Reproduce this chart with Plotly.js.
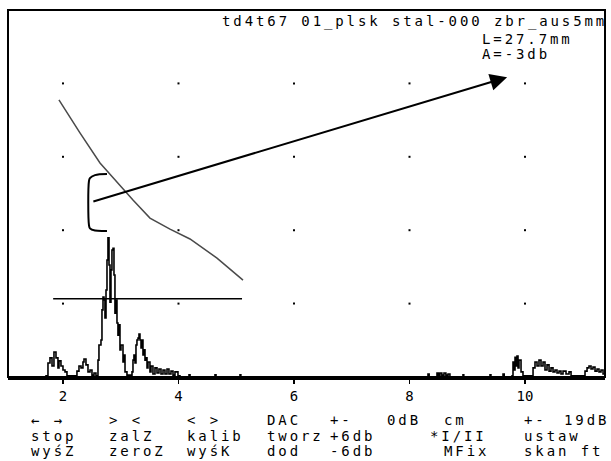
<!DOCTYPE html>
<html>
<head>
<meta charset="utf-8">
<script src="https://cdn.plot.ly/plotly-3.0.1.min.js"></script>
<style>
  html, body { margin: 0; padding: 0; background: #fff; }
  #chart { width: 611px; height: 461px; }
  .annotation-text { letter-spacing: 2.9px; }
</style>
</head>
<body>
<div id="chart"></div>
<script>
// ---- data ----
const tickValues = [2, 4, 6, 8, 10];
const tickLabels = ['2', '4', '6', '8', '10'];
const gridX = [2, 4, 6, 8, 10];
const gridY = [20, 40, 60, 80];

// rectified echo signal (A-scan), amplitude in % of screen height
const sigX = [1.05, 1.706, 1.740, 1.775, 1.810, 1.844, 1.879, 1.913, 1.931, 1.965, 2.000, 2.035, 2.069,
  2.225, 2.242, 2.277, 2.312, 2.346, 2.364, 2.398, 2.433, 2.468, 2.502, 2.537, 2.571,
  2.606, 2.623, 2.658, 2.675, 2.693, 2.710, 2.727, 2.745, 2.762, 2.779, 2.797, 2.814, 2.831, 2.848,
  2.866, 2.883, 2.900, 2.918, 2.935, 2.952, 2.970, 2.987, 3.004, 3.039, 3.056, 3.074, 3.108, 3.160,
  3.195, 3.212, 3.229, 3.247, 3.264, 3.281, 3.299, 3.316, 3.333, 3.351, 3.368, 3.385, 3.403, 3.420,
  3.437, 3.455, 3.472, 3.506, 3.524, 3.558, 3.593, 3.628, 3.662, 3.697, 3.732, 3.766, 3.801, 3.835,
  3.870, 3.905, 3.939, 3.991, 4.026,
  4.17, 4.182, 4.20, 4.62, 4.632, 4.65, 5.05, 5.065, 5.08,
  8.31, 8.320, 8.34, 8.46, 8.476, 8.50, 8.528, 8.56, 8.597, 8.63, 8.667, 8.70,
  8.91, 8.926, 8.94, 9.38, 9.394, 9.41, 9.60, 9.619, 9.64,
  9.775, 9.792, 9.810, 9.827, 9.844, 9.861, 9.879, 9.896, 9.931, 9.965,
  10.104, 10.139, 10.173, 10.208, 10.242, 10.277, 10.312, 10.346, 10.381, 10.416, 10.450, 10.485,
  10.519, 10.554, 10.589, 10.623, 10.658, 10.710, 10.762, 10.797,
  10.987, 11.039, 11.074, 11.108, 11.143, 11.177, 11.212, 11.247, 11.281, 11.316, 11.351, 11.385];
const sigY = [0, 0.3, 3.8, 5.2, 3.0, 6.8, 5.2, 2.5, 4.4, 3.0, 1.9, 1.4, 0.3,
  0.3, 1.6, 3.0, 2.5, 4.1, 4.9, 3.3, 1.4, 1.9, 0.5, 1.1, 0.3,
  4.6, 8.7, 10.1, 18.3, 21.8, 21.0, 16.1, 23.7, 31.9, 37.9, 30.5, 20.4, 29.2, 34.6,
  35.1, 27.8, 17.4, 21.0, 14.7, 11.4, 14.2, 7.4, 8.7, 4.1, 6.0, 1.4, 0.5, 0.5,
  1.4, 4.6, 6.0, 3.8, 8.7, 10.1, 10.6, 11.7, 10.1, 7.9, 10.1, 6.0, 7.4, 4.6,
  5.2, 2.5, 4.1, 1.4, 3.0, 0.8, 2.5, 1.1, 2.2, 0.8, 1.9, 0.8, 2.2, 0.8,
  1.6, 0.5, 1.4, 0.3, 0,
  0, 0.6, 0, 0, 0.6, 0, 0, 0.6, 0,
  0, 0.8, 0, 0, 1.1, 0.5, 1.1, 0.5, 1.1, 0.5, 0.8, 0,
  0, 0.6, 0, 0, 0.6, 0, 0, 0.8, 0,
  0.3, 4.1, 1.9, 5.4, 3.0, 5.7, 2.5, 4.6, 1.4, 0.3,
  0.3, 2.5, 4.1, 3.0, 4.6, 3.0, 4.1, 1.9, 3.3, 1.6, 2.5, 1.4,
  1.9, 1.1, 1.6, 0.8, 1.6, 0.8, 1.4, 0.3,
  0.3, 1.6, 2.5, 3.0, 2.2, 2.7, 1.6, 2.2, 1.4, 1.9, 0.8, 0.3];

// DAC curve
const dacX = [1.93, 2.294, 2.641, 2.900, 3.212, 3.506, 3.853, 4.199, 4.667, 5.117];
const dacY = [75.5, 66.5, 58.3, 53.7, 48.2, 43.3, 40.3, 37.6, 32.4, 26.4];

// gate line
const gateX = [1.83, 5.10];
const gateY = [21.3, 21.3];

// bracket marking the echo range on the DAC curve
const bracketX = [2.762, 2.554, 2.467, 2.450, 2.450, 2.467, 2.554, 2.762];
const bracketY = [55.3, 55.0, 54.2, 53.4, 41.4, 40.5, 39.9, 39.8];

// arrow from bracket to the reading
const arrowTail = [2.50, 47.7];
const arrowTip = [9.69, 81.7];

// texts
const headerLines = ['td4t67 01_plsk stal-000 zbr_aus5mm', 'L=27.7mm', 'A=-3db'];
const menuRow1 = ['← →', '> <', '< >', 'DAC', '+-', '0dB', 'cm', '+-', '19dB'];
const menuRow2 = ['stop', 'zalZ', 'kalib', 'tworz', '+6db', '*I/II', 'ustaw'];
const menuRow3 = ['wyśZ', 'zeroZ', 'wyśK', 'dod', '-6db', 'MFix', 'skan ft'];

// ---- layout positions (paper coordinates) ----
const headerPos = [[0.3551, 0.9700], [0.7906, 0.9210], [0.7906, 0.8800]];
const row1X = [0.0352, 0.1658, 0.2965, 0.4305, 0.5360, 0.6315, 0.7270, 0.8610, 0.9280];
const row2X = [0.0352, 0.1658, 0.2965, 0.4305, 0.5360, 0.7035, 0.8610];
const row3X = [0.0352, 0.1658, 0.2965, 0.4305, 0.5360, 0.7270, 0.8610];
const rowY = [-0.1172, -0.1608, -0.2016];

const FONT = 'DejaVu Sans Mono, monospace';

// grid dots
const gdx = [], gdy = [];
gridX.forEach(x => gridY.forEach(y => { gdx.push(x); gdy.push(y); }));

const traces = [
  { x: gdx, y: gdy, mode: 'markers', type: 'scatter', hoverinfo: 'skip',
    marker: { symbol: 'square', size: 2, color: '#000' } },
  { x: dacX, y: dacY, mode: 'lines', type: 'scatter', hoverinfo: 'skip',
    line: { color: '#4a4a4a', width: 1.5 } },
  { x: gateX, y: gateY, mode: 'lines', type: 'scatter', hoverinfo: 'skip',
    line: { color: '#000', width: 1.5 } },
  { x: bracketX, y: bracketY, mode: 'lines', type: 'scatter', hoverinfo: 'skip',
    line: { color: '#000', width: 2, shape: 'spline' } },
  { x: sigX, y: sigY, mode: 'lines', type: 'scatter', hoverinfo: 'skip',
    line: { color: '#000', width: 1.6, shape: 'hv' } }
];

const annotations = [];
headerLines.forEach((t, i) => annotations.push({
  xref: 'paper', yref: 'paper', x: headerPos[i][0], y: headerPos[i][1],
  xanchor: 'left', yanchor: 'middle', text: t, showarrow: false,
  font: { family: FONT, size: 14, color: '#000' }
}));
[[menuRow1, row1X, rowY[0]], [menuRow2, row2X, rowY[1]], [menuRow3, row3X, rowY[2]]].forEach(([row, xs, y]) => {
  row.forEach((t, i) => annotations.push({
    xref: 'paper', yref: 'paper', x: xs[i], y: y,
    xanchor: 'left', yanchor: 'middle', text: t, showarrow: false,
    font: { family: FONT, size: 14, color: '#000' }
  }));
});
annotations.push({
  x: arrowTip[0], y: arrowTip[1], xref: 'x', yref: 'y',
  ax: arrowTail[0], ay: arrowTail[1], axref: 'x', ayref: 'y',
  text: '', showarrow: true, arrowhead: 2, arrowsize: 1.7, arrowwidth: 2, arrowcolor: '#000'
});

const layout = {
  width: 611, height: 461,
  margin: { l: 8, r: 6, t: 10, b: 84 },
  paper_bgcolor: '#fff', plot_bgcolor: '#fff',
  showlegend: false,
  xaxis: {
    range: [1.048, 11.385], tickvals: tickValues, ticktext: tickLabels,
    ticks: 'outside', ticklen: 4, tickwidth: 1.5, tickcolor: '#000',
    showgrid: false, zeroline: false, showline: true, linewidth: 3, linecolor: '#000',
    tickfont: { family: FONT, size: 14, color: '#000' }, fixedrange: true
  },
  yaxis: {
    range: [0, 100], showgrid: false, zeroline: false, showline: false,
    showticklabels: false, ticks: '', fixedrange: true
  },
  shapes: [
    { type: 'rect', xref: 'paper', yref: 'paper', x0: 0, x1: 1, y0: 0, y1: 1,
      line: { color: '#000', width: 2 } }
  ],
  annotations: annotations
};

Plotly.newPlot('chart', traces, layout, { displayModeBar: false, staticPlot: true });
</script>
</body>
</html>
